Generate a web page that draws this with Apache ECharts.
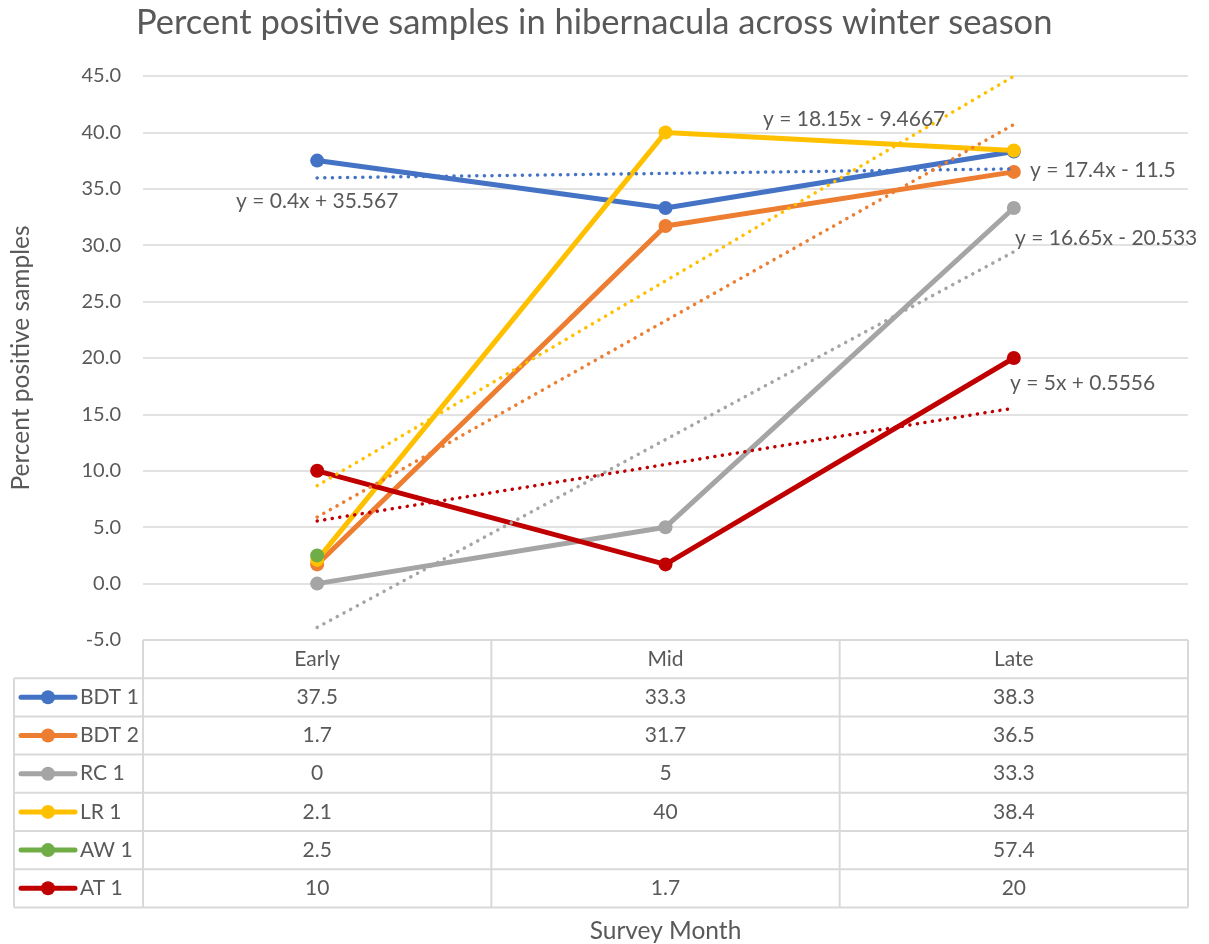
<!DOCTYPE html>
<html>
<head>
<meta charset="utf-8">
<script src="https://cdn.jsdelivr.net/npm/echarts@6/dist/echarts.min.js"></script>
<style>
  html, body { margin: 0; padding: 0; background: #ffffff; }
  #chart { width: 1209px; height: 944px; }
</style>
</head>
<body>
<div id="chart"></div>
<script>
// ---- data ----
const months = ['Early', 'Mid', 'Late'];
const seriesNames = ['BDT 1', 'BDT 2', 'RC 1', 'LR 1', 'AW 1', 'AT 1'];
const bdt1 = [37.5, 33.3, 38.3];
const bdt2 = [1.7, 31.7, 36.5];
const rc1 = [0, 5, 33.3];
const lr1 = [2.1, 40, 38.4];
const aw1 = [2.5, null, 57.4];
const at1 = [10, 1.7, 20];
const seriesValues = [bdt1, bdt2, rc1, lr1, aw1, at1];

// linear trendlines, y = slope * x + intercept with x = 1, 2, 3
const trendSeries = ['BDT 1', 'BDT 2', 'RC 1', 'LR 1', 'AT 1'];
const trendSlopes = [0.4, 17.4, 16.65, 18.15, 5];
const trendIntercepts = [35.567, -11.5, -20.533, -9.4667, 0.5556];
const trendLabels = ['y = 0.4x + 35.567', 'y = 17.4x - 11.5', 'y = 16.65x - 20.533', 'y = 18.15x - 9.4667', 'y = 5x + 0.5556'];

const yMin = -5, yMax = 45, yStep = 5;

// ---- styling / layout ----
const colors = {
  'BDT 1': '#4472C4', 'BDT 2': '#ED7D31', 'RC 1': '#A5A5A5',
  'LR 1': '#FFC000', 'AW 1': '#70AD47', 'AT 1': '#C00000'
};
const FONT = 'Lato, "Noto Sans", sans-serif';
const TEXT = '#595959';
const LINE = '#d9d9d9';
const G = { left: 143, right: 21, top: 76, bottom: 304 };
const tableLeft = 14;
const rowH = 38.2;
const tableFont = '21px ' + FONT;
const eqFont = '21px ' + FONT;
// equation label anchors (left x, middle y)
const eqPos = { 'BDT 1': [236, 201], 'BDT 2': [1030, 170], 'RC 1': [1015, 238], 'LR 1': [763, 119], 'AT 1': [1010, 383] };

const chart = echarts.init(document.getElementById('chart'), null, { renderer: 'canvas' });

const lineSeries = seriesNames.map((name, i) => ({
  name: name,
  type: 'line',
  data: seriesValues[i],
  connectNulls: false,
  clip: true,
  symbol: 'circle',
  symbolSize: 14,
  lineStyle: { width: 5, color: colors[name] },
  itemStyle: { color: colors[name] },
  emphasis: { disabled: true },
  z: 3
}));

const trendLines = trendSeries.map((name, i) => ({
  name: name + ' trend',
  type: 'line',
  data: months.map((m, k) => trendSlopes[i] * (k + 1) + trendIntercepts[i]),
  symbol: 'none',
  clip: false,
  lineStyle: { width: 3.5, color: colors[name], type: [0.1, 7.5], cap: 'round' },
  emphasis: { disabled: true },
  z: 4
}));

chart.setOption({
  animation: false,
  backgroundColor: '#ffffff',
  title: {
    text: 'Percent positive samples in hibernacula across winter season',
    left: 131, top: 0,
    textStyle: { fontFamily: FONT, fontSize: 34.5, fontWeight: 'normal', color: TEXT }
  },
  grid: {
    left: G.left, right: G.right, top: G.top, bottom: G.bottom,
    containLabel: false, outerBoundsMode: 'none'
  },
  xAxis: {
    type: 'category',
    data: months,
    boundaryGap: true,
    axisLine: { show: false },
    axisTick: { show: false },
    axisLabel: { show: false },
    splitLine: { show: false }
  },
  yAxis: {
    type: 'value',
    min: yMin, max: yMax, interval: yStep,
    name: 'Percent positive samples',
    nameLocation: 'middle',
    nameGap: 109,
    nameRotate: 90,
    nameTextStyle: { fontFamily: FONT, fontSize: 24.5, color: TEXT },
    axisLine: { show: false },
    axisTick: { show: false },
    axisLabel: {
      fontFamily: FONT, fontSize: 20, color: TEXT, margin: 22,
      formatter: v => v.toFixed(1)
    },
    splitLine: { lineStyle: { color: LINE, width: 1.5 } }
  },
  series: lineSeries.concat(trendLines)
});

// ---- data table, equation labels and axis title ----
function buildGraphics() {
  const els = [];
  const plotBottom = chart.getHeight() - G.bottom;
  const plotRight = chart.getWidth() - G.right;
  const colW = (plotRight - G.left) / months.length;
  const tableBottom = plotBottom + rowH * (seriesNames.length + 1);

  // horizontal rules
  for (let r = 0; r <= seriesNames.length + 1; r++) {
    const y = plotBottom + r * rowH;
    const x1 = r === 0 ? G.left : tableLeft;
    els.push({ type: 'line', shape: { x1: x1, y1: y, x2: plotRight, y2: y }, style: { stroke: LINE, lineWidth: 2 }, z: 1 });
  }
  // vertical rules
  for (let c = 0; c <= months.length; c++) {
    const x = G.left + c * colW;
    els.push({ type: 'line', shape: { x1: x, y1: plotBottom, x2: x, y2: tableBottom }, style: { stroke: LINE, lineWidth: 2 }, z: 1 });
  }
  els.push({ type: 'line', shape: { x1: tableLeft, y1: plotBottom + rowH, x2: tableLeft, y2: tableBottom }, style: { stroke: LINE, lineWidth: 2 }, z: 1 });

  // header
  months.forEach((m) => {
    const cx = chart.convertToPixel({ xAxisIndex: 0 }, m);
    els.push({ type: 'text', x: cx, y: plotBottom + rowH / 2, style: { text: m, fill: TEXT, font: tableFont, align: 'center', verticalAlign: 'middle' }, z: 5 });
  });

  // rows
  seriesNames.forEach((name, r) => {
    const cy = plotBottom + (r + 1.5) * rowH;
    els.push({ type: 'line', shape: { x1: 21, y1: cy, x2: 75, y2: cy }, style: { stroke: colors[name], lineWidth: 5, lineCap: 'round' }, z: 5 });
    els.push({ type: 'circle', shape: { cx: 48, cy: cy, r: 7 }, style: { fill: colors[name] }, z: 6 });
    els.push({ type: 'text', x: 80, y: cy, style: { text: name, fill: TEXT, font: tableFont, align: 'left', verticalAlign: 'middle' }, z: 5 });
    months.forEach((m, c) => {
      const v = seriesValues[r][c];
      if (v === null || v === undefined) return;
      const cx = chart.convertToPixel({ xAxisIndex: 0 }, m);
      els.push({ type: 'text', x: cx, y: cy, style: { text: String(v), fill: TEXT, font: tableFont, align: 'center', verticalAlign: 'middle' }, z: 5 });
    });
  });

  // x axis title
  els.push({ type: 'text', x: (G.left + plotRight) / 2, y: tableBottom + 24, style: { text: 'Survey Month', fill: TEXT, font: '24.5px ' + FONT, align: 'center', verticalAlign: 'middle' }, z: 5 });

  // trendline equations
  trendSeries.forEach((name, i) => {
    const p = eqPos[name];
    els.push({ type: 'text', x: p[0], y: p[1], style: { text: trendLabels[i], fill: TEXT, font: eqFont, align: 'left', verticalAlign: 'middle' }, z: 7 });
  });

  chart.setOption({ graphic: { elements: els } });
}
buildGraphics();
</script>
</body>
</html>
